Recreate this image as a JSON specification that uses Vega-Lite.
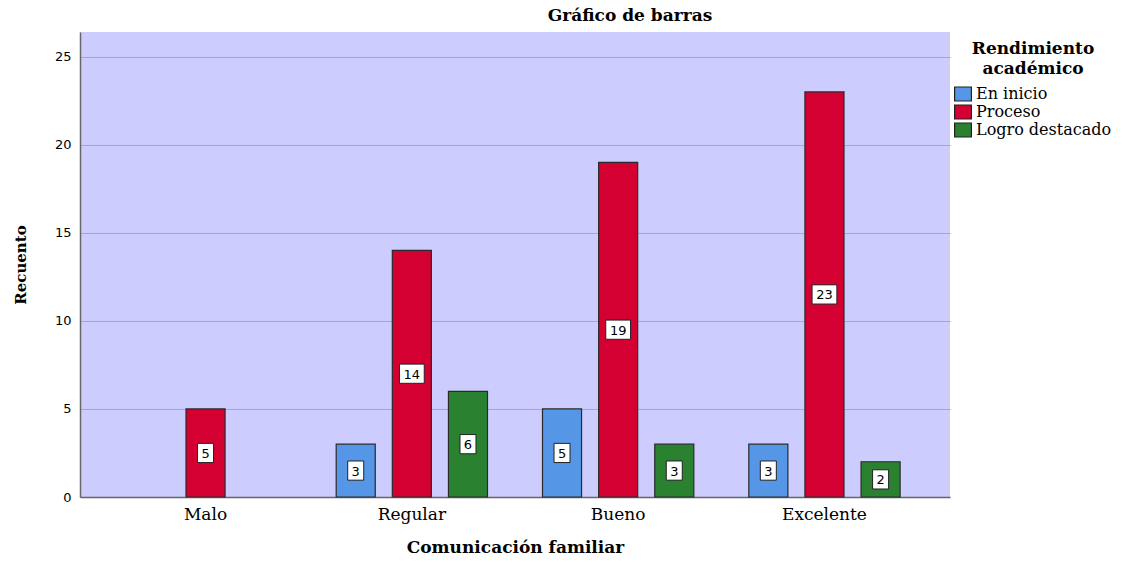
{
  "$schema": "https://vega.github.io/schema/vega-lite/v6.json",
  "autosize": {"type": "none"},
  "width": 870,
  "height": 465,
  "padding": {"left": 80, "top": 32, "right": 173, "bottom": 66},
  "background": "white",
  "title": {
    "text": "Gráfico de barras",
    "font": "DejaVu Serif",
    "fontSize": 17,
    "fontWeight": "bold",
    "color": "#000000",
    "anchor": "middle",
    "dx": 115,
    "offset": 7
  },
  "config": {
    "view": {"fill": "#CCCCFF", "stroke": null},
    "axis": {"labelColor": "#000000", "titleColor": "#000000"}
  },
  "data": {
    "values": [
      {"comunicacion": "Malo", "rendimiento": "Proceso", "count": 5},
      {"comunicacion": "Regular", "rendimiento": "En inicio", "count": 3},
      {"comunicacion": "Regular", "rendimiento": "Proceso", "count": 14},
      {"comunicacion": "Regular", "rendimiento": "Logro destacado", "count": 6},
      {"comunicacion": "Bueno", "rendimiento": "En inicio", "count": 5},
      {"comunicacion": "Bueno", "rendimiento": "Proceso", "count": 19},
      {"comunicacion": "Bueno", "rendimiento": "Logro destacado", "count": 3},
      {"comunicacion": "Excelente", "rendimiento": "En inicio", "count": 3},
      {"comunicacion": "Excelente", "rendimiento": "Proceso", "count": 23},
      {"comunicacion": "Excelente", "rendimiento": "Logro destacado", "count": 2}
    ]
  },
  "encoding": {
    "x": {
      "field": "comunicacion",
      "type": "nominal",
      "sort": ["Malo", "Regular", "Bueno", "Excelente"],
      "scale": {"paddingInner": 0, "paddingOuter": 0.1085},
      "axis": {
        "title": "Comunicación  familiar",
        "titleFont": "DejaVu Serif",
        "titleFontSize": 17,
        "titleFontWeight": "bold",
        "titlePadding": 17,
        "labelFont": "DejaVu Serif",
        "labelFontSize": 17,
        "labelAngle": 0,
        "labelPadding": 9,
        "ticks": false,
        "domainColor": "#666666",
        "domainWidth": 1.5,
        "grid": false
      }
    },
    "xOffset": {
      "field": "rendimiento",
      "type": "nominal",
      "sort": ["En inicio", "Proceso", "Logro destacado"],
      "scale": {"domain": ["En inicio", "Proceso", "Logro destacado"], "paddingInner": 0.304, "paddingOuter": 0.49}
    }
  },
  "layer": [
    {
      "mark": {"type": "bar", "stroke": "#2a2a2a", "strokeWidth": 1.2},
      "encoding": {
        "y": {
          "field": "count",
          "type": "quantitative",
          "scale": {"domain": [0, 26.4], "nice": false},
          "axis": {
            "title": "Recuento",
            "titleFont": "DejaVu Serif",
            "titleFontSize": 15,
            "titleFontWeight": "bold",
            "titlePadding": 26,
            "labelFont": "DejaVu Sans",
            "labelFontSize": 13,
            "labelPadding": 9,
            "ticks": false,
            "values": [0, 5, 10, 15, 20, 25],
            "domainColor": "#666666",
            "domainWidth": 1.5,
            "grid": true,
            "gridColor": "#a9a9b6",
            "gridWidth": 1
          }
        },
        "fill": {
          "field": "rendimiento",
          "type": "nominal",
          "scale": {
            "domain": ["En inicio", "Proceso", "Logro destacado"],
            "range": ["#5596E6", "#D50032", "#2A8230"]
          },
          "legend": {
            "title": ["Rendimiento", "académico"],
            "titleFont": "DejaVu Serif",
            "titleFontSize": 17,
            "titleFontWeight": "bold",
            "titleAnchor": "middle",
            "titleAlign": "center",
            "titleLineHeight": 20,
            "titlePadding": 8,
            "labelFont": "DejaVu Serif",
            "labelFontSize": 16,
            "labelColor": "#000000",
            "labelOffset": 5,
            "symbolType": "M-1.2,-1H1.2V1H-1.2Z",
            "symbolSize": 196,
            "symbolStrokeColor": "#222222",
            "symbolStrokeWidth": 1.2,
            "rowPadding": -2,
            "orient": "none",
            "legendX": 875,
            "legendY": 9
          }
        }
      }
    },
    {
      "mark": {"type": "point", "filled": true, "fill": "white", "stroke": "#222222", "strokeWidth": 1, "opacity": 1},
      "encoding": {
        "y": {
          "field": "count",
          "type": "quantitative",
          "scale": {"domain": [0, 52.8], "nice": false},
          "axis": null
        },
        "shape": {
          "condition": {"test": "datum.count >= 10", "value": "M-1.55,-1.2H1.55V1.2H-1.55Z"},
          "value": "M-1,-1.2H1V1.2H-1Z"
        },
        "size": {"value": 256}
      }
    },
    {
      "mark": {"type": "text", "font": "DejaVu Sans", "fontSize": 13, "color": "#000000", "baseline": "middle", "align": "center", "dy": 1},
      "encoding": {
        "y": {
          "field": "count",
          "type": "quantitative",
          "scale": {"domain": [0, 52.8], "nice": false},
          "axis": null
        },
        "text": {"field": "count", "type": "quantitative"}
      }
    }
  ],
  "resolve": {"scale": {"y": "independent"}}
}
